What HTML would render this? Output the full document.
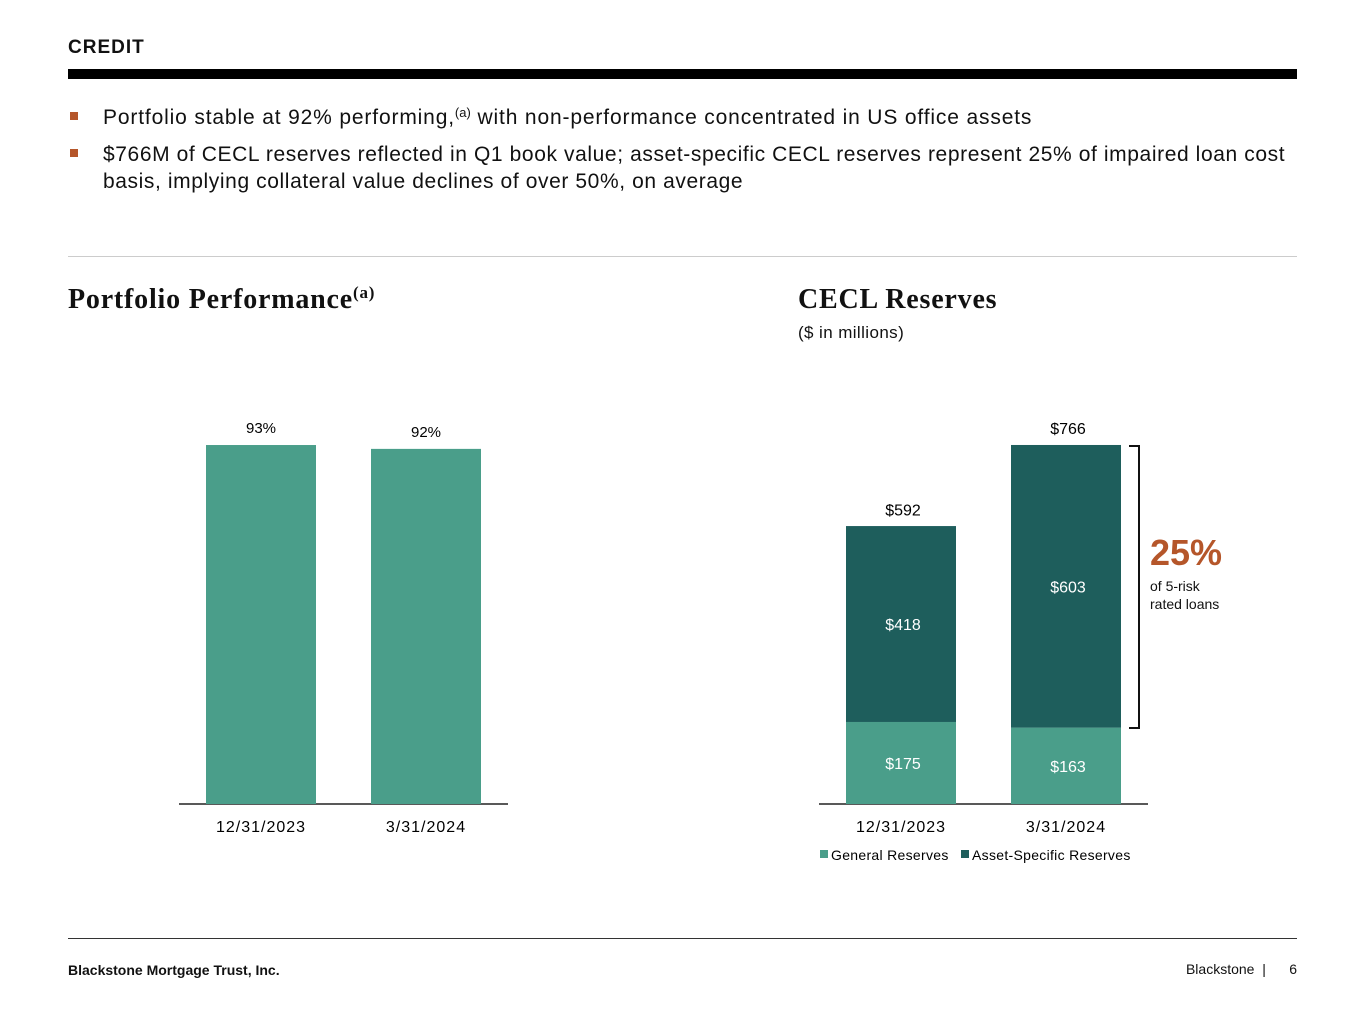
<!DOCTYPE html>
<html><head><meta charset="utf-8"><style>
body{margin:0;width:1365px;height:1024px;background:#fff;font-family:"Liberation Sans","DejaVu Sans",sans-serif;position:relative;overflow:hidden;color:#111}
.a{position:absolute}
.serif{font-family:"Liberation Serif",serif;font-weight:bold}
sup{line-height:0;vertical-align:7px}
</style></head><body>
<div class="a" style="left:68px;top:37px;font-size:19px;font-weight:bold;letter-spacing:1px">CREDIT</div>
<div class="a" style="left:68px;top:69px;width:1229px;height:10px;background:#000"></div>
<div class="a" style="left:68px;top:104px;font-size:21px;line-height:27px;width:1240px;letter-spacing:0.85px;white-space:nowrap">
<span style="position:absolute;left:2px;top:8px;width:8px;height:8px;background:#b5562a"></span>
<span style="margin-left:35px">Portfolio stable at 92% performing,<sup style="font-size:13px;letter-spacing:0">(a)</sup> with non-performance concentrated in US office assets</span></div>
<div class="a" style="left:68px;top:141px;font-size:21px;line-height:27px;width:1240px;letter-spacing:0.6px;white-space:nowrap">
<span style="position:absolute;left:2px;top:8px;width:8px;height:8px;background:#b5562a"></span>
<div style="margin-left:35px">$766M of CECL reserves reflected in Q1 book value; asset-specific CECL reserves represent 25% of impaired loan cost<br>basis, implying collateral value declines of over 50%, on average</div></div>
<div class="a" style="left:68px;top:256px;width:1229px;height:1px;background:#ccc"></div>
<div class="a serif" style="left:68px;top:284px;font-size:28px;letter-spacing:0.8px">Portfolio Performance<sup style="font-size:17px;vertical-align:10px">(a)</sup></div>
<div class="a serif" style="left:798px;top:284px;font-size:28px;letter-spacing:0.8px">CECL Reserves</div>
<div class="a" style="left:798px;top:323px;font-size:17px;letter-spacing:0.4px">($ in millions)</div>
<svg class="a" style="left:0;top:0" width="1365" height="1024" id="charts"></svg>
<div class="a" style="left:1129px;top:445px;width:9px;height:280px;border:2px solid #111;border-left:none"></div>
<div class="a" style="left:1150px;top:532px;font-size:36px;font-weight:bold;color:#b5562a">25%</div>
<div class="a" style="left:1150px;top:577px;font-size:14px;line-height:18px">of 5-risk<br>rated loans</div>
<div class="a" style="left:68px;top:938px;width:1229px;height:1px;background:#333"></div>
<div class="a" style="left:68px;top:962px;font-size:14px;font-weight:bold">Blackstone Mortgage Trust, Inc.</div>
<div class="a" style="right:68px;top:961px;font-size:14px">Blackstone &nbsp;| &nbsp;&nbsp;&nbsp;&nbsp;&nbsp;6</div>
<script>
const perfCats=["12/31/2023","3/31/2024"];
const perfVals=[93,92];
const ceclCats=["12/31/2023","3/31/2024"];
const generalVals=[175,163];
const specificVals=[418,603];
const totalVals=[592,766];
const NS="http://www.w3.org/2000/svg";
const svg=document.getElementById('charts');
function mk(t,a,txt){const e=document.createElementNS(NS,t);for(const k in a)e.setAttribute(k,a[k]);if(txt!==undefined)e.textContent=txt;svg.appendChild(e);return e;}
const base=804, light="#4a9e8a", dark="#1e5e5c";
const yP=v=>base-v*3.86;
const xP=i=>206+i*165;
let ax=mk('line',{x1:179,x2:508,y1:base,y2:base,stroke:'#222','stroke-width':1.5});

perfCats.forEach((c,i)=>{
 const r=mk('rect',{x:xP(i),y:yP(perfVals[i]),width:110,height:base-yP(perfVals[i]),fill:light});
 
 
 const l=mk('text',{x:xP(i)+55,y:yP(perfVals[i])-12,'text-anchor':'middle','font-size':15},perfVals[i]+'%');
 
 
 const t=mk('text',{x:xP(i)+55,y:832,'text-anchor':'middle','font-size':16,'letter-spacing':1},c);
 
 
});
const yC=v=>base-v*0.4687;
const xC=i=>846+i*165;
ax=mk('line',{x1:819,x2:1148,y1:base,y2:base,stroke:'#222','stroke-width':1.5});

ceclCats.forEach((c,i)=>{
 const g=generalVals[i],s=specificVals[i];
 const r1=mk('rect',{x:xC(i),y:yC(g),width:110,height:base-yC(g),fill:light});
 
 
 const r2=mk('rect',{x:xC(i),y:yC(g+s),width:110,height:yC(g)-yC(g+s),fill:dark});
 
 
 const l1=mk('text',{x:xC(i)+57,y:(yC(g)+base)/2+6,'text-anchor':'middle','font-size':16,fill:'#fff'},'$'+g);
 
 
 const l2=mk('text',{x:xC(i)+57,y:(yC(g)+yC(g+s))/2+6,'text-anchor':'middle','font-size':16,fill:'#fff'},'$'+s);
 
 
 const l3=mk('text',{x:xC(i)+57,y:yC(totalVals[i])-11,'text-anchor':'middle','font-size':16},'$'+totalVals[i]);
 
 
 const t=mk('text',{x:xC(i)+55,y:832,'text-anchor':'middle','font-size':16,'letter-spacing':1},c);
 
 
});
const lg=[["General Reserves",light,820],["Asset-Specific Reserves",dark,961]];
lg.forEach(([n,col,x])=>{
 const s=mk('rect',{x:x,y:850,width:8,height:8,fill:col});
 
 
 const t=mk('text',{x:x+11,y:860,'font-size':14,'letter-spacing':0.3},n);
 
 
});
</script>
</body></html>
